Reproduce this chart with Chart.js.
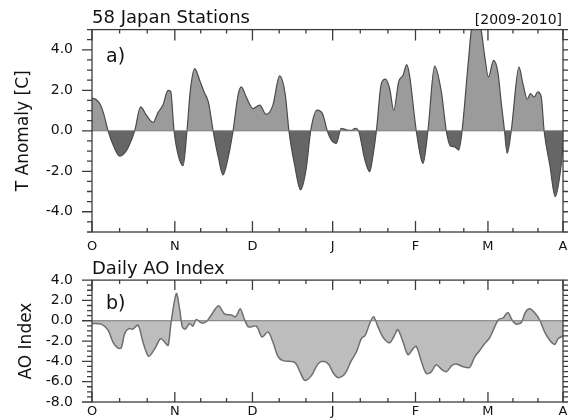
<!DOCTYPE html>
<html>
<head>
<meta charset="utf-8">
<script src="https://cdn.jsdelivr.net/npm/chart.js@4.4.1/dist/chart.umd.min.js"></script>
<style>
  body { margin: 0; background: #fff; }
  #contenedor { position: relative; width: 569px; height: 419px; }
  #contenedor canvas { position: absolute; left: 0; }
</style>
</head>
<body>
<div id="contenedor">
  <canvas id="graficoTemp" width="569" height="262" style="top:0"></canvas>
  <canvas id="graficoAO" width="569" height="169" style="top:250px"></canvas>
</div>
<script>
// eje x en dias desde el 1 de octubre
const mesesEtiquetas = ['O', 'N', 'D', 'J', 'F', 'M', 'A'];
const mesesDias = [0, 32, 62, 93, 125, 153, 182];

const tTicks = [-4, -2, 0, 2, 4];
const aoTicks = [-8, -6, -4, -2, 0, 2, 4];

// a) anomalia de temperatura, 58 estaciones
const tDias = [
    0, 2, 3.2, 4.5, 6.2, 8.5, 10.7, 12.2, 13.9, 16.5, 18.8, 21, 23.6, 25.5, 27.4, 29.4, 30.4, 31.7,
    33.5, 35.2, 36.7, 38, 39.7, 41.6, 43.3, 45, 46.8, 48.8, 50.6, 52.8, 54.5, 56.5, 57.7, 59.6,
    62.2, 64.8, 67.3, 69.9, 72.5, 74.7, 76.1, 78.3, 80.6, 82.8, 84.5, 87, 89.2, 90.9, 92.5, 94.4,
    96.3, 98.3, 100.2, 101.7, 103, 105.3, 107.3, 108.6, 109.9, 111.8, 113.4, 115, 116.6, 118.5,
    120.2, 121.6, 122.7, 125.3, 127.9, 129.8, 132.4, 135, 136.9, 138.5, 140.1, 141.7, 143, 145.3,
    147, 149, 150.4, 151.7, 153.2, 155.2, 156.8, 158.1, 159.4, 160.4, 162, 165, 166.5, 168.2,
    169.4, 170.8, 172.3, 173.6, 174.7, 176.9, 179, 181.3, 182
];
const tValores = [
    1.62, 1.5, 1.3, 0.85, 0, -0.8, -1.25, -1.15, -0.85, 0, 1.18, 0.77, 0.41, 0.9, 1.27, 2.0, 1.95, 0,
    -1.3, -1.72, 0, 2.0, 3.07, 2.5, 1.92, 1.4, 0, -1.3, -2.18, -1.2, 0, 1.8, 2.17, 1.67,
    1.1, 1.27, 0.81, 1.27, 2.71, 1.76, 0, -1.69, -2.92, -1.85, 0, 1.02, 0.81, 0, -0.46, -0.62,
    0.12, 0.05, 0.02, 0.12, 0, -1.36, -2.02, -1.2, 0, 2.33, 2.55, 2.09, 1.02, 2.42,
    2.74, 3.27, 2.74, 0, -1.61, 0, 3.2, 1.92, 0, -0.75, -0.79, -0.95, 0, 3.24,
    5.3, 5.5, 4.96, 3.73, 2.66, 3.48, 2.91, 1.43, 0, -1.11, 0, 3.15, 2.33, 1.56,
    1.84, 1.67, 1.92, 1.67, 0, -1.69, -3.25, -1.69, -0.7
];

// b) indice AO diario
const aoDias = [
    0, 3.6, 6.2, 8.1, 10, 11.3, 12.6, 14.2, 15.8, 17.8, 19.7, 21.9, 24.2, 26.5, 28.1, 29.4, 30.6,
    32.6, 33.9, 34.9, 36, 37.7, 39, 40.3, 42.2, 44.2, 46.1, 48.9, 51.2, 53.8, 55.5, 57.3, 59,
    60.5, 63.5, 65.7, 68, 69.9, 71.9, 73.8, 78.3, 80.2, 82.2, 84.7, 87.3, 89.3, 91.5, 93.1, 95.1,
    97.6, 100.2, 102.1, 104.1, 105.6, 107.3, 108.8, 110.5, 112.4, 115, 116.9, 118.2, 120.2, 122.1,
    124, 125.3, 127.2, 129.2, 131.1, 133, 135, 136.9, 139, 140.8, 143.4, 145.9, 147.8, 149.8,
    151.7, 153.7, 155.6, 157.1, 158.8, 160.7, 162.3, 163.9, 165.9, 167.4, 169.1, 171, 173, 174.9,
    176.9, 178.8, 180.1, 182
];
const aoValores = [
    -0.27, -0.33, -0.93, -2.1, -2.7, -2.67, -1.27, -0.77, -0.83, -0.43, -2.1, -3.5, -2.77, -1.77, -2.1, -2.43, -0.1,
    2.67, 1.07, -0.6, -0.83, -0.27, -0.53, 0.13, -0.2, -0.1, 0.57, 1.47, 0.67, 0.57, 0.4, 1.17, 0.07,
    -0.6, -0.53, -1.6, -1.1, -2.1, -3.53, -3.93, -4.1, -4.93, -5.87, -5.43, -4.27, -4.0, -4.3, -5.1, -5.6,
    -5.27, -3.93, -3.1, -1.77, -1.43, -0.27, 0.4, -0.6, -1.6, -2.17, -1.43, -0.87, -2.1, -3.33,
    -2.77, -2.53, -3.93, -5.2, -5.03, -4.33, -4.77, -5.03, -4.43, -4.27, -4.53, -4.6, -3.6, -2.93,
    -2.27, -1.67, -0.6, 0.13, 0.27, 0.8, 0.07, -0.33, -0.17, 0.8, 1.17, 0.8, 0.07, -1.1,
    -1.93, -2.33, -1.77, -1.5
];

Chart.defaults.font.family = "'DejaVu Sans', sans-serif";
Chart.defaults.color = '#111';

// marco, ticks hacia dentro en x, hacia fuera en y, linea del cero y rotulos
const marcoPlugin = {
    id: 'marco',
    afterDatasetsDraw(chart, args, opts) {
        const ctx = chart.ctx;
        const a = chart.chartArea;
        const x = chart.scales.x;
        const y = chart.scales.y;
        ctx.save();

        const y0 = y.getPixelForValue(0);
        ctx.strokeStyle = '#7a7a7a';
        ctx.lineWidth = 1;
        ctx.beginPath();
        ctx.moveTo(a.left, y0);
        ctx.lineTo(a.right, y0);
        ctx.stroke();

        ctx.strokeStyle = '#3c3c3c';
        ctx.lineWidth = 1.3;
        ctx.strokeRect(a.left, a.top, a.right - a.left, a.bottom - a.top);

        ctx.beginPath();
        for (let i = 0; i < mesesDias.length; i++) {
            const px = x.getPixelForValue(mesesDias[i]);
            ctx.moveTo(px, a.bottom); ctx.lineTo(px, a.bottom - opts.xMayor);
            ctx.moveTo(px, a.top); ctx.lineTo(px, a.top + opts.xMayor);
            if (i < mesesDias.length - 1) {
                const paso = (mesesDias[i + 1] - mesesDias[i]) / 3;
                for (let k = 1; k < 3; k++) {
                    const pm = x.getPixelForValue(mesesDias[i] + paso * k);
                    ctx.moveTo(pm, a.bottom); ctx.lineTo(pm, a.bottom - 4);
                    ctx.moveTo(pm, a.top); ctx.lineTo(pm, a.top + 4);
                }
            }
        }
        for (let v = y.min; v <= y.max + 0.001; v += 0.5) {
            const py = y.getPixelForValue(v);
            const largo = opts.yMayores.includes(v) ? 10 : 5;
            ctx.moveTo(a.left, py); ctx.lineTo(a.left - largo, py);
            ctx.moveTo(a.right, py); ctx.lineTo(a.right + 5, py);
        }
        ctx.stroke();

        ctx.fillStyle = '#111';
        ctx.textBaseline = 'alphabetic';
        ctx.textAlign = 'left';
        ctx.font = "19px 'DejaVu Sans'";
        ctx.fillText(opts.panel, a.left + 14, a.top + opts.panelY);
        if (opts.derecha) {
            ctx.textAlign = 'right';
            ctx.font = "14px 'DejaVu Sans'";
            ctx.fillText(opts.derecha, a.right - 1, 24);
        }
        ctx.restore();
    }
};

function opcionesGrafico(titulo, tituloPad, yMin, yMax, yTicks, yTitulo, yTituloPad, xAlto, xPad, marco) {
    return {
        responsive: false,
        animation: false,
        layout: { padding: { left: 0, right: 6, top: 0, bottom: 0 } },
        plugins: {
            legend: { display: false },
            tooltip: { enabled: false },
            title: {
                display: true,
                text: titulo,
                align: 'start',
                fullSize: false,
                color: '#111',
                font: { size: 18, weight: 'normal' },
                padding: { top: tituloPad, bottom: 0 }
            },
            marco: marco
        },
        scales: {
            x: {
                type: 'linear',
                min: 0,
                max: 182,
                afterBuildTicks: s => { s.ticks = mesesDias.map(v => ({ value: v })); },
                afterFit: s => { s.height = xAlto; s.paddingLeft = 0; s.paddingRight = 0; },
                grid: { display: false },
                border: { display: false },
                ticks: {
                    padding: xPad,
                    maxRotation: 0,
                    autoSkip: false,
                    font: { size: 13 },
                    callback: (v, i) => mesesEtiquetas[i]
                }
            },
            y: {
                min: yMin,
                max: yMax,
                afterBuildTicks: s => { s.ticks = yTicks.map(v => ({ value: v })); },
                afterFit: s => { s.width = 92; s.paddingTop = 0; s.paddingBottom = 0; },
                grid: { display: false },
                border: { display: false },
                ticks: { padding: 11, font: { size: 14 }, callback: v => Number(v).toFixed(1) },
                title: {
                    display: true,
                    text: yTitulo,
                    font: { size: 17 },
                    padding: { top: yTituloPad, bottom: 0 }
                }
            }
        }
    };
}

new Chart(document.getElementById('graficoTemp'), {
    type: 'line',
    plugins: [marcoPlugin],
    data: {
        datasets: [{
            data: tDias.map((d, i) => ({ x: d, y: tValores[i] })),
            borderColor: '#4a4a4a',
            borderWidth: 1.2,
            pointRadius: 0,
            cubicInterpolationMode: 'monotone',
            fill: { target: 'origin', above: '#9b9b9b', below: '#666666' }
        }]
    },
    options: opcionesGrafico('58 Japan Stations', 8, -5, 5, tTicks, 'T Anomaly [C]', 13, 30, -1,
        { xMayor: 11, yMayores: tTicks, panel: 'a)', panelY: 32, derecha: '[2009-2010]' })
});

new Chart(document.getElementById('graficoAO'), {
    type: 'line',
    plugins: [marcoPlugin],
    data: {
        datasets: [{
            data: aoDias.map((d, i) => ({ x: d, y: aoValores[i] })),
            borderColor: '#6e6e6e',
            borderWidth: 1.5,
            pointRadius: 0,
            tension: 0.3,
            fill: { target: 'origin', above: '#bdbdbd', below: '#bdbdbd' }
        }]
    },
    options: opcionesGrafico('Daily AO Index', 8.5, -8, 4, aoTicks, 'AO Index', 16, 17, -6,
        { xMayor: 10, yMayores: aoTicks, panel: 'b)', panelY: 29, derecha: null })
});
</script>
</body>
</html>
